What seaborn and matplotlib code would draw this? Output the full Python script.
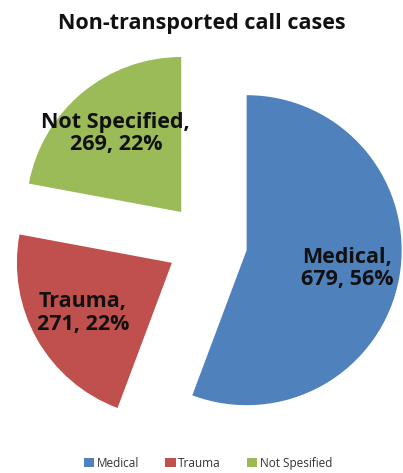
import numpy as np
import seaborn as sns
from matplotlib import pyplot as plt

# data
categories = ['Medical', 'Trauma', 'Not Specified']
legend_names = ['Medical', 'Trauma', 'Not Spesified']
counts = [679, 271, 269]
colors = ['#4F81BD', '#C0504D', '#9BBB59']

sns.set_theme(style='white')
plt.rcParams['font.family'] = ['Open Sans', 'DejaVu Sans']

W, H = 403, 473
fig = plt.figure(figsize=(W / 100, H / 100), dpi=100)
ax = fig.add_axes([0, 0, 1, 1])

wedges, _ = ax.pie(counts, colors=colors, startangle=90, counterclock=False,
                   explode=[0.26] * 3, radius=1,
                   wedgeprops={'linewidth': 0})

# scale: 155 px per unit, pie centre at (207, 243) px from top-left
px = 155.0
ax.set_xlim(-207 / px, (W - 207) / px)
ax.set_ylim(-(H - 243) / px, 243 / px)
ax.set_aspect('auto')
ax.axis('off')

total = sum(counts)
for w, name, n in zip(wedges, categories, counts):
    mid = np.deg2rad((w.theta1 + w.theta2) / 2)
    cx, cy = w.center
    x, y = cx + 0.66 * np.cos(mid), cy + 0.66 * np.sin(mid)
    ax.text(x, y, f'{name},\n{n}, {round(100 * n / total)}%', ha='center', va='center',
            fontsize=15.5, fontweight='bold', color='#111111', linespacing=1.1)

fig.text(0.5, 1 - 23 / H, 'Non-transported call cases', ha='center', va='center',
         fontsize=15.5, fontweight='bold', color='#111111')

fig.legend(wedges, legend_names, loc='center', bbox_to_anchor=(208 / W, 1 - 463 / H),
           ncol=3, frameon=False, fontsize=8.5, handlelength=0.9, handleheight=0.9,
           handletextpad=0.2, columnspacing=2.2, labelcolor='#333333')

fig.savefig('out.png', dpi=100)
